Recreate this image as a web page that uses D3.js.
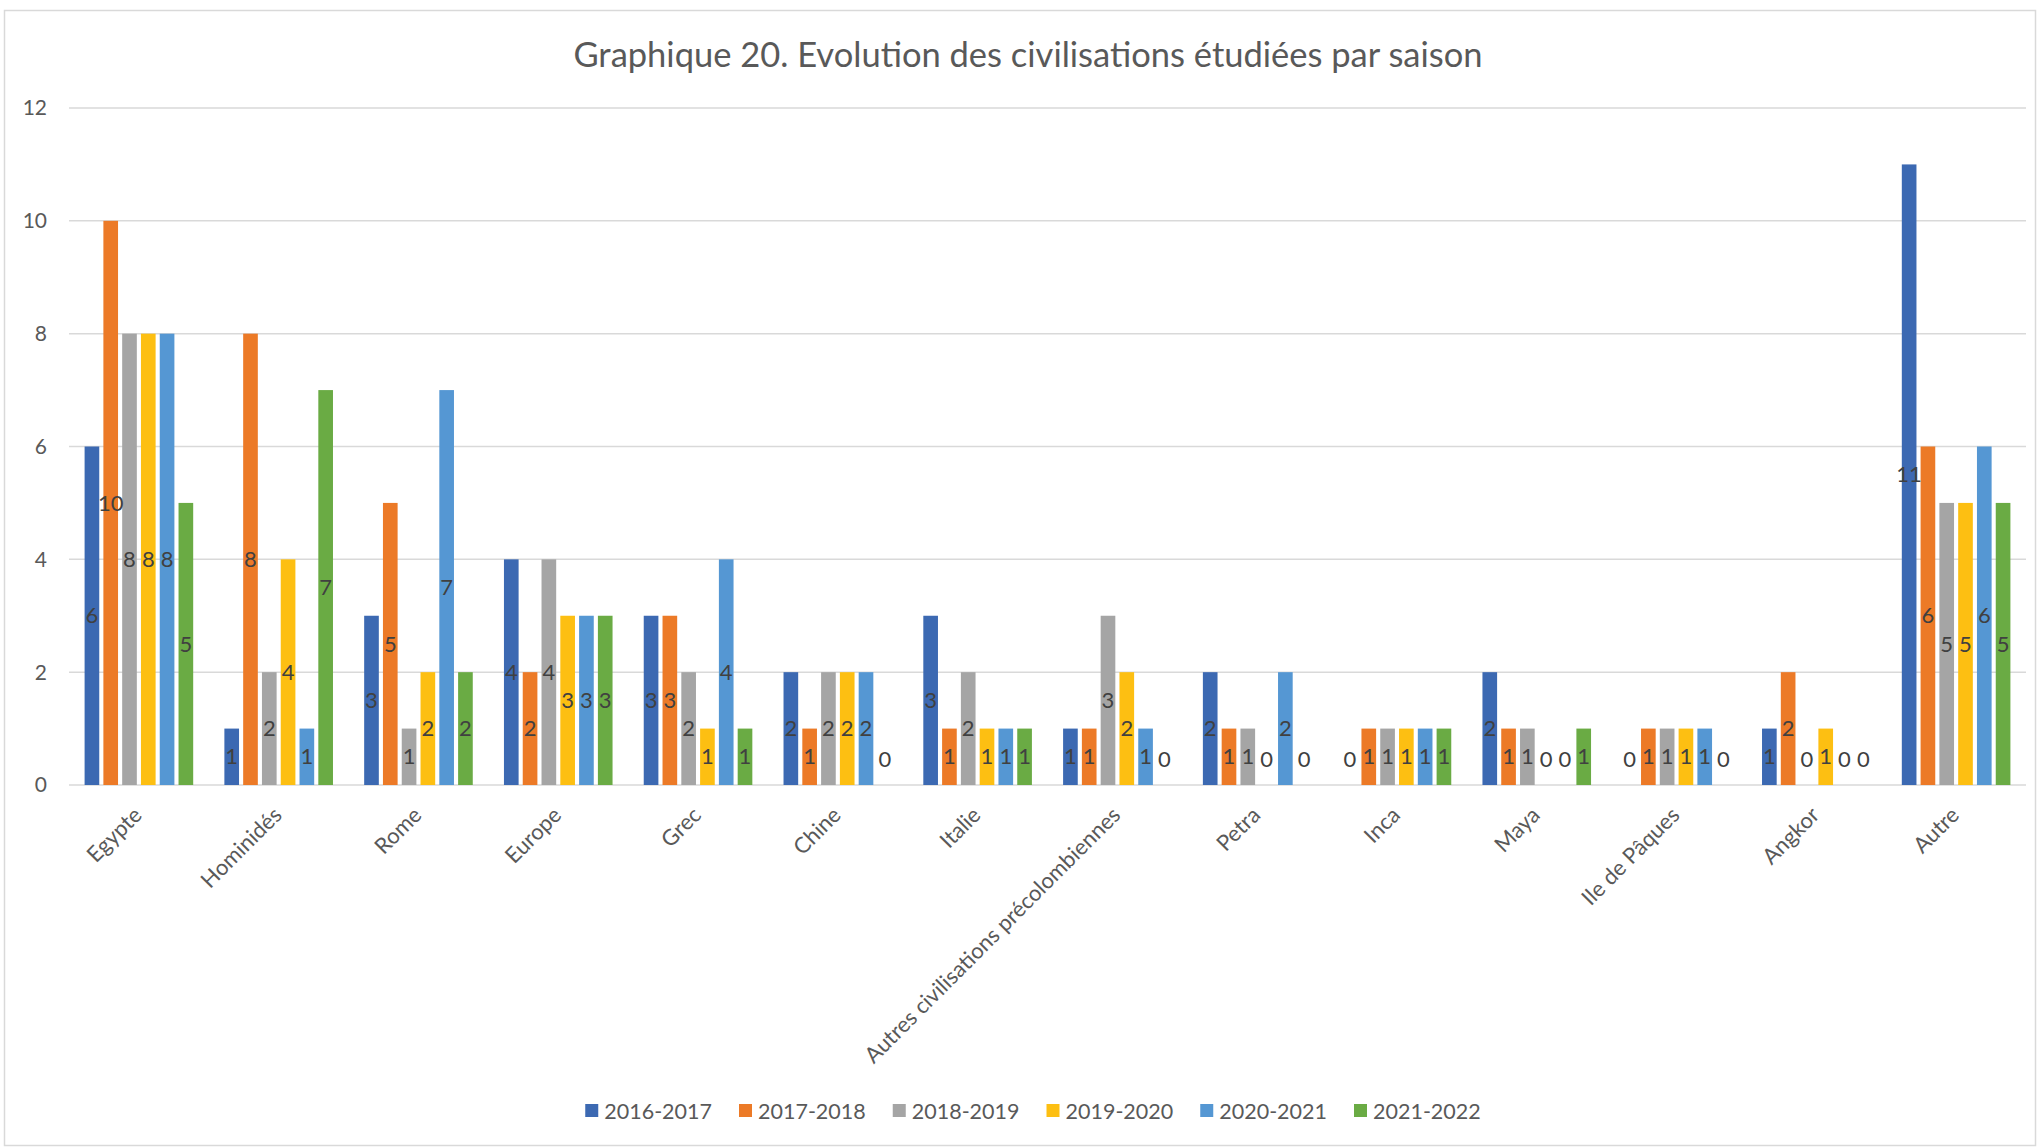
<!DOCTYPE html>
<html>
<head>
<meta charset="utf-8">
<script src="https://cdn.jsdelivr.net/npm/d3@7"></script>
<style>
  body { margin: 0; background: #fff; }
  text { font-family: Lato, "Open Sans", sans-serif; }
</style>
</head>
<body>
<div id="chart"></div>
<script>
var width = 2040;
var height = 1148;

// categories (x axis)
var categories = ["Egypte", "Hominidés", "Rome", "Europe", "Grec", "Chine", "Italie",
  "Autres civilisations précolombiennes", "Petra", "Inca", "Maya", "Ile de Pâques", "Angkor", "Autre"];

// seasons (series)
var seasons = ["2016-2017", "2017-2018", "2018-2019", "2019-2020", "2020-2021", "2021-2022"];

// values per season, in category order
var s2016 = [6, 1, 3, 4, 3, 2, 3, 1, 2, 0, 2, 0, 1, 11];
var s2017 = [10, 8, 5, 2, 3, 1, 1, 1, 1, 1, 1, 1, 2, 6];
var s2018 = [8, 2, 1, 4, 2, 2, 2, 3, 1, 1, 1, 1, 0, 5];
var s2019 = [8, 4, 2, 3, 1, 2, 1, 2, 0, 1, 0, 1, 1, 5];
var s2020 = [8, 1, 7, 3, 4, 2, 1, 1, 2, 1, 0, 1, 0, 6];
var s2021 = [5, 7, 2, 3, 1, 0, 1, 0, 0, 1, 1, 0, 0, 5];

var yTicks = [0, 2, 4, 6, 8, 10, 12];

var colors = ["#3C69B2", "#EC7A27", "#A5A5A5", "#FDBF12", "#5597D3", "#6AAB44"];

var series = [s2016, s2017, s2018, s2019, s2020, s2021];

var margin = {top: 108, right: 14, bottom: 363, left: 69};
var plotW = width - margin.left - margin.right;
var plotH = height - margin.top - margin.bottom;

var svg = d3.select("#chart").append("svg")
    .attr("width", width)
    .attr("height", height);

// chart frame
svg.append("rect")
    .attr("x", 4.5).attr("y", 10.5)
    .attr("width", 2031).attr("height", 1135)
    .attr("fill", "#fff")
    .attr("stroke", "#d9d9d9")
    .attr("stroke-width", 1.5);

// title
svg.append("text")
    .attr("x", 1028)
    .attr("y", 67)
    .attr("text-anchor", "middle")
    .style("font-size", "34.5px")
    .attr("fill", "#595959")
    .text("Graphique 20. Evolution des civilisations étudiées par saison");

var g = svg.append("g")
    .attr("transform", "translate(" + margin.left + "," + margin.top + ")");

var x0 = d3.scaleBand()
    .domain(categories)
    .range([0, plotW])
    .padding(0);

var x1 = d3.scaleBand()
    .domain(seasons)
    .range([0, x0.bandwidth()])
    .paddingInner(0.22)
    .paddingOuter(0.83);

var y = d3.scaleLinear()
    .domain([0, 12])
    .range([plotH, 0]);

// gridlines
g.selectAll(".grid")
    .data(yTicks)
    .enter().append("line")
    .attr("class", "grid")
    .attr("x1", 0).attr("x2", plotW)
    .attr("y1", function(d) { return y(d); })
    .attr("y2", function(d) { return y(d); })
    .attr("stroke", "#d9d9d9")
    .attr("stroke-width", 1.5);

// y axis labels
g.selectAll(".ylab")
    .data(yTicks)
    .enter().append("text")
    .attr("class", "ylab")
    .attr("x", -22)
    .attr("y", function(d) { return y(d); })
    .attr("dy", "0.35em")
    .attr("text-anchor", "end")
    .style("font-size", "21px")
    .attr("fill", "#595959")
    .text(function(d) { return d; });

// flat table for bars
var cells = [];
categories.forEach(function(c, i) {
  seasons.forEach(function(s, j) {
    cells.push({cat: c, season: s, idx: j, value: series[j][i]});
  });
});

g.selectAll(".bar")
    .data(cells)
    .enter().append("rect")
    .attr("class", "bar")
    .attr("x", function(d) { return x0(d.cat) + x1(d.season); })
    .attr("width", x1.bandwidth())
    .attr("y", function(d) { return y(d.value); })
    .attr("height", function(d) { return plotH - y(d.value); })
    .attr("fill", function(d) { return colors[d.idx]; });

// data labels, centred in the bar
g.selectAll(".val")
    .data(cells)
    .enter().append("text")
    .attr("class", "val")
    .attr("x", function(d) { return x0(d.cat) + x1(d.season) + x1.bandwidth() / 2; })
    .attr("y", function(d) { return Math.min(y(d.value / 2), plotH - 26); })
    .attr("dy", "0.35em")
    .attr("text-anchor", "middle")
    .style("font-size", "22px")
    .attr("fill", "#404040")
    .text(function(d) { return d.value; });

// x axis labels
g.selectAll(".xlab")
    .data(categories)
    .enter().append("text")
    .attr("class", "xlab")
    .attr("transform", function(d) {
      return "translate(" + (x0(d) + x0.bandwidth() / 2 - 1) + "," + (plotH + 26) + ") rotate(-45)";
    })
    .attr("text-anchor", "end")
    .attr("dy", "0.35em")
    .style("font-size", "22px")
    .attr("fill", "#595959")
    .text(function(d) { return d; });

// legend
var legend = svg.append("g");
var lx = 0;
seasons.forEach(function(s, j) {
  var item = legend.append("g").attr("transform", "translate(" + lx + ",0)");
  item.append("rect")
      .attr("x", 0).attr("y", -7)
      .attr("width", 13).attr("height", 13)
      .attr("fill", colors[j]);
  var t = item.append("text")
      .attr("x", 19)
      .attr("y", 0)
      .attr("dy", "0.35em")
      .style("font-size", "21.5px")
      .attr("fill", "#595959")
      .text(s);
  lx += 19 + t.node().getComputedTextLength() + 27;
});
var legW = lx - 27;
legend.attr("transform", "translate(" + (1033 - legW / 2) + ",1111)");
</script>
</body>
</html>
